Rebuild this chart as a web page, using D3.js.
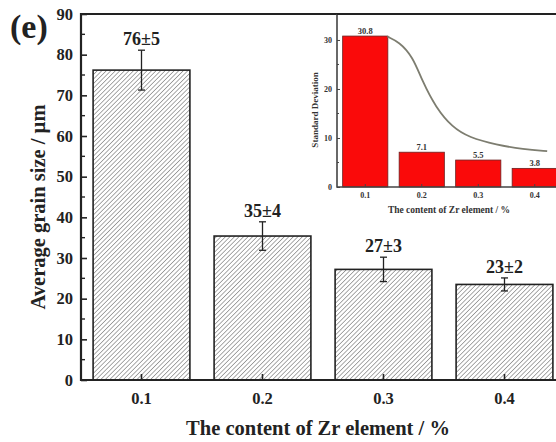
<!DOCTYPE html>
<html><head><meta charset="utf-8">
<script src="https://cdn.jsdelivr.net/npm/d3@7"></script>
<style>body{margin:0;background:#fff}svg{display:block}svg text{font-family:"Liberation Serif","Times New Roman",serif !important;font-weight:bold;fill:#222}</style>
</head><body>
<svg id="c" width="556" height="442"></svg>
<script>
// ---- data ----
const categories = ["0.1", "0.2", "0.3", "0.4"];
const grainSize = [76.2, 35.4, 27.2, 23.5];
const grainErr = [4.9, 3.5, 3.0, 1.6];
const grainLabels = ["76\u00b15", "35\u00b14", "27\u00b13", "23\u00b12"];
const yTicks = [0, 10, 20, 30, 40, 50, 60, 70, 80, 90];
const stdDev = [30.8, 7.1, 5.5, 3.8];
const stdLabels = ["30.8", "7.1", "5.5", "3.8"];
const insetYTicks = [0, 10, 20, 30];
// fitted trend curve in inset: [category position (0 = first bar), value]
const trendX = [0.39, 0.6, 0.84, 1.01, 1.25, 1.54, 1.84, 2.32, 2.8, 3.22];
const trendY = [30.7, 29.6, 26.6, 21.6, 16.2, 12.2, 10.1, 8.6, 7.7, 7.3];

const svg = d3.select("#c");
const defs = svg.append("defs");
const pat = defs.append("pattern").attr("id", "hatch").attr("patternUnits", "userSpaceOnUse")
  .attr("width", 3.2).attr("height", 3.2).attr("patternTransform", "rotate(45)");
pat.append("rect").attr("width", 3.2).attr("height", 3.2).attr("fill", "#fff");
pat.append("line").attr("x1", 0).attr("y1", 0).attr("x2", 0).attr("y2", 3.2)
  .attr("stroke", "#555").attr("stroke-width", 1);

// ---- main chart ----
const L = 81, T = 14, B = 380, R = 565;
const x = d3.scaleBand().domain(categories).range([L, R]).paddingInner(0.2).paddingOuter(0.1);
const y = d3.scaleLinear().domain([0, 90]).range([B, T]);

const g = svg.append("g");
g.selectAll("rect.bar").data(categories).join("rect").attr("class", "bar")
  .attr("x", d => x(d)).attr("width", x.bandwidth())
  .attr("y", (d, i) => y(grainSize[i])).attr("height", (d, i) => B - y(grainSize[i]))
  .attr("fill", "url(#hatch)").attr("stroke", "#222").attr("stroke-width", 1.6);

// error bars
const eb = g.selectAll("g.err").data(categories).join("g").attr("class", "err");
eb.append("line").attr("x1", d => x(d) + x.bandwidth() / 2).attr("x2", d => x(d) + x.bandwidth() / 2)
  .attr("y1", (d, i) => y(grainSize[i] - grainErr[i])).attr("y2", (d, i) => y(grainSize[i] + grainErr[i]))
  .attr("stroke", "#222").attr("stroke-width", 1.3);
[1, -1].forEach(s => {
  eb.append("line").attr("x1", d => x(d) + x.bandwidth() / 2 - 3.5).attr("x2", d => x(d) + x.bandwidth() / 2 + 3.5)
    .attr("y1", (d, i) => y(grainSize[i] + s * grainErr[i])).attr("y2", (d, i) => y(grainSize[i] + s * grainErr[i]))
    .attr("stroke", "#222").attr("stroke-width", 1.3);
});
g.selectAll("text.val").data(categories).join("text").attr("class", "val")
  .attr("x", d => x(d) + x.bandwidth() / 2).attr("y", (d, i) => y(grainSize[i] + grainErr[i]) - 5)
  .attr("text-anchor", "middle").attr("font-size", 18).text((d, i) => grainLabels[i]);

// axes
const yAxis = d3.axisLeft(y).tickValues(yTicks).tickSize(-6).tickPadding(8);
const ya = g.append("g").attr("transform", `translate(${L},0)`).call(yAxis);
ya.attr("font-family", null);
ya.selectAll("text").attr("font-size", 16.5).attr("fill", "#222");
ya.selectAll("line").attr("stroke", "#222").attr("stroke-width", 1.6);
ya.select(".domain").remove();
// minor ticks
g.selectAll("line.minor").data(d3.range(5, 90, 10)).join("line").attr("class", "minor")
  .attr("x1", L).attr("x2", L + 4).attr("y1", d => y(d)).attr("y2", d => y(d))
  .attr("stroke", "#222").attr("stroke-width", 1.4);

const xAxis = d3.axisBottom(x).tickSize(-6).tickPadding(12);
const xa = g.append("g").attr("transform", `translate(0,${B})`).call(xAxis);
xa.attr("font-family", null);
xa.selectAll("text").attr("font-size", 16.5).attr("fill", "#222");
xa.selectAll("line").attr("stroke", "#222").attr("stroke-width", 1.6);
xa.select(".domain").remove();

// frame
g.append("path").attr("d", `M${R},${T}H${L}V${B}H${R}`).attr("fill", "none")
  .attr("stroke", "#222").attr("stroke-width", 2.2);

g.append("text").attr("x", 318).attr("y", 435).attr("text-anchor", "middle").attr("font-size", 20.5)
  .text("The content of Zr element / %");
g.append("text").attr("transform", "translate(45,207) rotate(-90)").attr("text-anchor", "middle")
  .attr("font-size", 20.5).text("Average grain size / \u00b5m");
g.append("text").attr("x", 10).attr("y", 38).attr("font-size", 34).text("(e)");

// ---- inset ----
const iL = 337, iT = 14, iB = 187, iR = 563;
const ix = d3.scaleBand().domain(categories).range([iL, iR]).paddingInner(0.2).paddingOuter(0.1);
const iy = d3.scaleLinear().domain([0, 35.3]).range([iB, iT]);
const ig = svg.append("g");
ig.append("rect").attr("x", iL).attr("y", iT).attr("width", iR - iL).attr("height", iB - iT).attr("fill", "#fff");
ig.selectAll("rect.sd").data(categories).join("rect").attr("class", "sd")
  .attr("x", d => ix(d)).attr("width", ix.bandwidth())
  .attr("y", (d, i) => iy(stdDev[i])).attr("height", (d, i) => iB - iy(stdDev[i]))
  .attr("fill", "#fa0a0a").attr("stroke", "#6a2020").attr("stroke-width", 0.8);
ig.selectAll("text.sdv").data(categories).join("text").attr("class", "sdv")
  .attr("x", d => ix(d) + ix.bandwidth() / 2).attr("y", (d, i) => iy(stdDev[i]) - 2.5)
  .attr("text-anchor", "middle").attr("font-size", 8.5).style("fill", "#333").text((d, i) => stdLabels[i]);

const step = ix.step();
const cx0 = ix(categories[0]) + ix.bandwidth() / 2;
const line = d3.line().x(d => cx0 + d[0] * step).y(d => iy(d[1])).curve(d3.curveBasis);
ig.append("path").datum(trendX.map((v, i) => [v, trendY[i]])).attr("d", line)
  .attr("fill", "none").attr("stroke", "#7d7d70").attr("stroke-width", 1.8);

const iya = ig.append("g").attr("transform", `translate(${iL},0)`)
  .call(d3.axisLeft(iy).tickValues(insetYTicks).tickSize(-3).tickPadding(5));
iya.attr("font-family", null);
iya.selectAll("text").attr("font-size", 8).style("fill", "#333");
iya.selectAll("line").attr("stroke", "#444").attr("stroke-width", 1);
iya.select(".domain").remove();
ig.selectAll("line.iminor").data([5, 15, 25]).join("line").attr("class", "iminor")
  .attr("x1", iL).attr("x2", iL + 2).attr("y1", d => iy(d)).attr("y2", d => iy(d))
  .attr("stroke", "#444").attr("stroke-width", 1);
const ixa = ig.append("g").attr("transform", `translate(0,${iB})`)
  .call(d3.axisBottom(ix).tickSize(-3).tickPadding(5));
ixa.attr("font-family", null);
ixa.selectAll("text").attr("font-size", 8).style("fill", "#333");
ixa.selectAll("line").attr("stroke", "#444").attr("stroke-width", 1);
ixa.select(".domain").remove();
ig.append("path").attr("d", `M${iL},${iT}V${iB}H${iR}`).attr("fill", "none")
  .attr("stroke", "#444").attr("stroke-width", 1.6);
ig.append("line").attr("x1", iL).attr("x2", 556).attr("y1", T).attr("y2", T)
  .attr("stroke", "#222").attr("stroke-width", 2.2);

ig.append("text").attr("x", 449).attr("y", 213).attr("text-anchor", "middle").attr("font-size", 9.5)
  .style("fill", "#333").text("The content of Zr element / %");
ig.append("text").attr("transform", "translate(318,110) rotate(-90)").attr("text-anchor", "middle")
  .attr("font-size", 9).style("fill", "#333").text("Standard Deviation");
</script>
</body></html>
